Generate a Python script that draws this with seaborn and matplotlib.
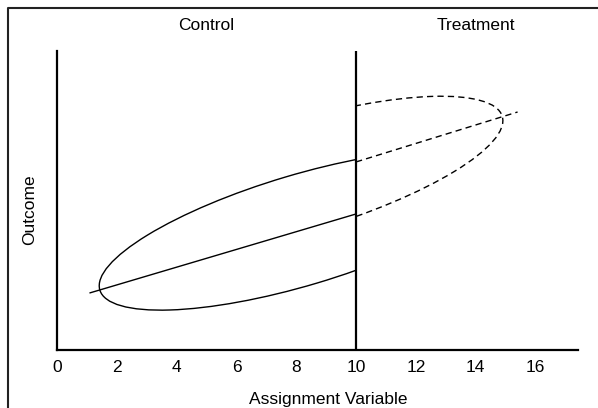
import numpy as np
import pandas as pd
import seaborn as sns
import matplotlib
matplotlib.use("Agg")
import matplotlib.pyplot as plt
from matplotlib.patches import Ellipse, Rectangle
from matplotlib.lines import Line2D

# Values
cutoff = 10.0
x_ticks = [0, 2, 4, 6, 8, 10, 12, 14, 16]
group_names = ["Control", "Treatment"]
group_label_x = [5.0, 14.0]

# regression lines (x, y at the ends)
control_x = [1.1, 10.0]
control_y = [1.91, 4.55]
treatment_x = [10.0, 15.4]
treatment_y = [6.29, 7.96]

# data clouds (ellipses): centre, full width, full height, tilt in degrees
cloud_centre_x = [8.16, 8.16]
cloud_centre_y = [4.01, 5.81]
cloud_width = 14.04
cloud_height = 3.7
cloud_angle = 16.6

sns.set_style("white")
plt.rcParams["font.family"] = ["Liberation Sans", "DejaVu Sans"]
plt.rcParams["text.color"] = "black"
plt.rcParams["axes.labelcolor"] = "black"
FS = 12.5

fig = plt.figure(figsize=(5.98, 4.08), dpi=100)
ax = fig.add_axes([57 / 598, 58 / 408, 521 / 598, 299 / 408])

dash = (0, (4.5, 3))

# regression lines
sns.lineplot(x=control_x, y=control_y, ax=ax, color="black", lw=1.0)
sns.lineplot(x=treatment_x, y=treatment_y, ax=ax, color="black", lw=1.0,
             linestyle=dash)

# ellipses, each one only on its own side of the cutoff
sides = [(0, cutoff), (cutoff, 20)]
styles = ["-", dash]
for cx, cy, (lo, hi), ls in zip(cloud_centre_x, cloud_centre_y, sides, styles):
    e = Ellipse((cx, cy), cloud_width, cloud_height, angle=cloud_angle,
                fill=False, edgecolor="black", lw=1.0, linestyle=ls)
    ax.add_patch(e)
    clip = Rectangle((lo, -5), hi - lo, 20, transform=ax.transData)
    e.set_clip_path(clip)

ax.axvline(cutoff, color="black", lw=1.6)

ax.set_xlim(0, 17.42)
ax.set_ylim(0, 10)
ax.set_xticks(x_ticks)
ax.set_yticks([])
ax.tick_params(axis="x", length=0, pad=7, labelsize=FS, colors="black")

for side in ["top", "right"]:
    ax.spines[side].set_visible(False)
for side in ["left", "bottom"]:
    ax.spines[side].set_color("black")
    ax.spines[side].set_linewidth(1.6)

ax.set_xlabel("Assignment Variable", fontsize=FS, va="center", color="black")
ax.xaxis.set_label_coords(0.52, -0.164)
ax.set_ylabel("Outcome", fontsize=FS, va="center", color="black")
ax.yaxis.set_label_coords(-0.052, 0.468)

for name, gx in zip(group_names, group_label_x):
    ax.text(gx, 1.085, name, transform=ax.get_xaxis_transform(),
            ha="center", va="center", fontsize=FS, color="black")

# frame around the figure (left and top edges)
fig.add_artist(Line2D([8 / 598, 8 / 598, 1.0], [0.0, 1 - 8 / 408, 1 - 8 / 408],
                      transform=fig.transFigure, color="#222222", lw=1.5))

fig.savefig("out.png", dpi=100)
